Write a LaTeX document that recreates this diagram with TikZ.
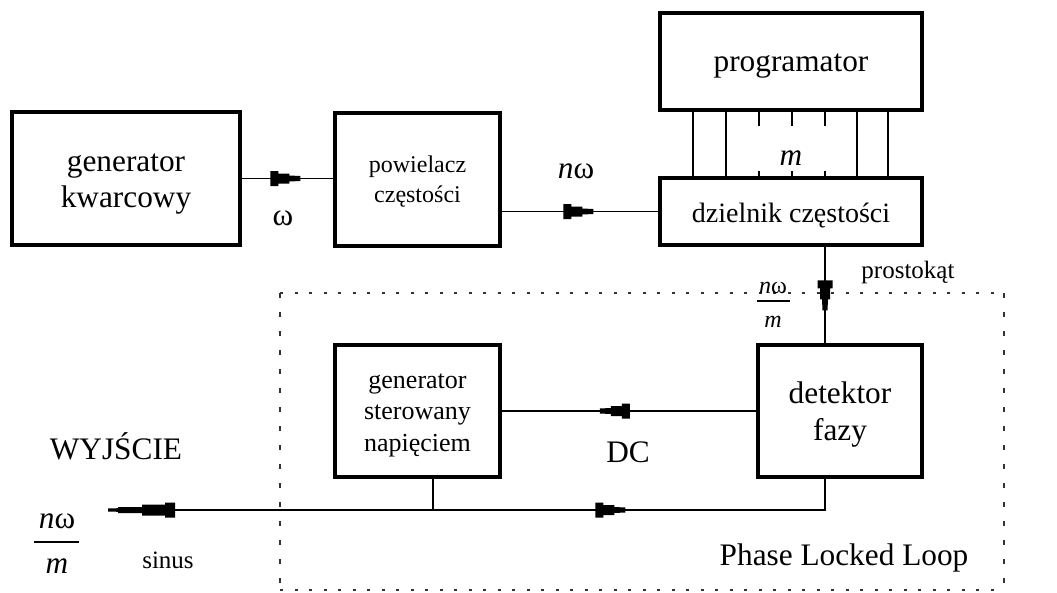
\documentclass[tikz,border=0pt]{standalone}
\usepackage{fontspec}
\setmainfont{Liberation Serif}
\usetikzlibrary{decorations.markings}
\tikzset{
  box/.style={draw, line width=4.5pt, inner sep=0pt},
  boxtxt/.style={align=center, inner sep=0pt},
  conn/.style={line width=1.5pt},
  bus/.style={line width=1.3pt},
  fracbar/.style={line width=1.3pt},
  pllh/.style={line width=1.3pt, dash pattern=on 3pt off 11.5pt, black!80},
  pllv/.style={line width=1.3pt, dash pattern=on 4.5pt off 14.5pt, black!80},
  big/.style={font=\fontsize{31.3}{36}\selectfont},
  mid/.style={font=\fontsize{25}{31}\selectfont},
  small/.style={font=\fontsize{24}{28}\selectfont},
  lbl/.style={anchor=base, inner sep=0pt},
  sarr/.style={postaction={decorate,decoration={markings,mark=at position #1 with {\fill[black] (0pt,7.5pt) -- (8pt,7.5pt) -- (8pt,5pt) -- (19pt,5pt) -- (19pt,3pt) -- (30pt,2.5pt) -- (30pt,-2.5pt) -- (19pt,-3pt) -- (19pt,-5pt) -- (8pt,-5pt) -- (8pt,-7.5pt) -- (0pt,-7.5pt) -- cycle;}}}},
  larr/.style={postaction={decorate,decoration={markings,mark=at position #1 with {\fill[black] (0pt,7.5pt) -- (10pt,7.5pt) -- (10pt,5.5pt) -- (33pt,5.5pt) -- (33pt,3pt) -- (57pt,3pt) -- (57pt,1.8pt) -- (67pt,1.5pt) -- (67pt,-1.5pt) -- (57pt,-1.8pt) -- (57pt,-3pt) -- (33pt,-3pt) -- (33pt,-5.5pt) -- (10pt,-5.5pt) -- (10pt,-7.5pt) -- (0pt,-7.5pt) -- cycle;}}}},
}
\begin{document}
\begin{tikzpicture}[x=1pt,y=-1pt]
\useasboundingbox (0,0) rectangle (1057,592);

% PLL frame
\draw[pllh] (280,293) -- (1004,293);
\draw[pllh] (280,590) -- (1004,590);
\draw[pllv] (280,293) -- (280,590);
\draw[pllv] (1004,293) -- (1004,590);

% blocks
\node[box, minimum width=228pt, minimum height=133pt,
  label={[boxtxt, big, yshift=-6pt]center:{generator\\kwarcowy}}] (gk) at (126,178.5) {};
\node[box, minimum width=165pt, minimum height=133pt,
  label={[boxtxt, font=\fontsize{24}{30}\selectfont, yshift=-2pt]center:{powielacz\\częstości}}] (pow) at (417.5,179.5) {};
\node[box, minimum width=262pt, minimum height=97pt,
  label={[boxtxt, big, yshift=-5pt]center:{programator}}] (prog) at (791,61.5) {};
\node[box, minimum width=262pt, minimum height=67pt,
  label={[boxtxt, font=\fontsize{28}{34}\selectfont, yshift=-4pt]center:{dzielnik częstości}}] (dz) at (791,211.5) {};
\node[box, minimum width=165pt, minimum height=132pt,
  label={[boxtxt, font=\fontsize{26}{31.5}\selectfont, yshift=-4pt]center:{generator\\sterowany\\napięciem}}] (gsn) at (417.5,411) {};
\node[box, minimum width=164pt, minimum height=132pt,
  label={[boxtxt, font=\fontsize{31.3}{37}\selectfont, yshift=-4pt]center:{detektor\\fazy}}] (det) at (840,411) {};

% bus between programator and dzielnik
\foreach \dx in {-98,-65,66,97}
  \draw[bus] ([xshift=\dx pt]prog.south) -- ([xshift=\dx pt]dz.north);
\foreach \dx in {-32,1,34} {
  \draw[bus] ([xshift=\dx pt]prog.south) -- ++(0,14);
  \draw[bus] ([xshift=\dx pt]dz.north) -- ++(0,-5);
}

% connectors
\draw[conn, sarr=28pt] (gk.east) -- (gk.east -| pow.west);
\draw[conn, sarr=61pt] (pow.east |- dz.west) -- (dz.west);
\draw[conn, sarr=33pt] ([xshift=34pt]dz.south) -- ([xshift=34pt]dz.south |- det.north);
\draw[conn, sarr=126pt] (det.west) -- (gsn.east);
\coordinate (out) at (108,510);
\coordinate (j) at ([xshift=15.5pt]gsn.south |- out);
\draw[conn, sarr=193pt] ([xshift=15.5pt]gsn.south) -- (j) -| ([xshift=-15pt]det.south);
\draw[conn, larr=258pt] (j) -- (out);

% labels
\node[lbl, big] (lw) at (283,225) {ω};
\node[lbl, big] (lnw) at (576,178) {\textit{n}ω};
\node[lbl, big] (lm) at (791,165) {\textit{m}};
\node[lbl, mid] (lprost) at (908,278) {prostokąt};
\node[lbl, small] (fn1) at (773,293) {\textit{n}ω};
\node[lbl, small] (fm1) at (773,327) {\textit{m}};
\draw[fracbar] (757,301) -- (790,301);
\node[lbl, big] (lout) at (116,459) {WYJŚCIE};
\node[lbl, big] (fn2) at (57,528) {\textit{n}ω};
\node[lbl, big] (fm2) at (57,573) {\textit{m}};
\draw[fracbar] (34,542) -- (79,542);
\node[lbl, mid] (lsin) at (168,568) {sinus};
\node[lbl, big] (ldc) at (628,462) {DC};
\node[lbl, big] (lpll) at (844,565) {Phase Locked Loop};
\end{tikzpicture}
\end{document}
